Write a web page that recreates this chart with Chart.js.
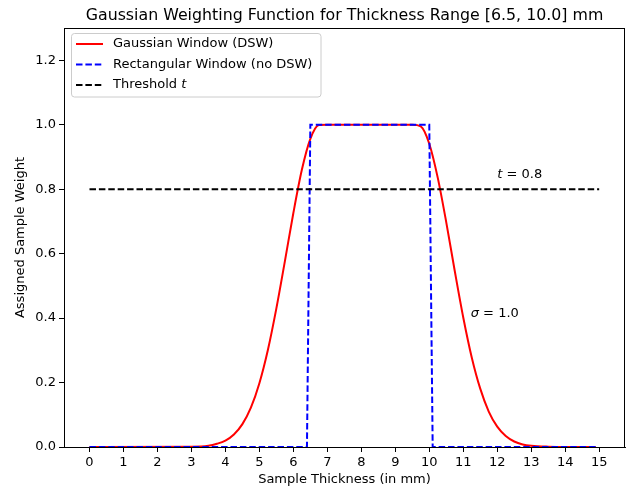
<!DOCTYPE html>
<html>
<head>
<meta charset="utf-8">
<script src="https://cdn.jsdelivr.net/npm/chart.js"></script>
<style>
  html, body { margin: 0; padding: 0; background: #fff; }
  canvas { display: block; }
</style>
</head>
<body>
<canvas id="chart" width="629" height="491"></canvas>
<script>
// values
const gaussX = [0, 3.0, 3.5, 3.75, 4.0, 4.25, 4.5, 4.75, 5.0, 5.25, 5.5, 5.75, 6.0, 6.25, 6.5, 6.75, 7.0,
  9.5, 9.75, 10.0, 10.25, 10.5, 10.75, 11.0, 11.25, 11.5, 11.75, 12.0, 12.25, 12.5, 12.75, 13.0, 13.5, 14.0, 14.9];
const gaussW = [0, 0.001, 0.004, 0.010, 0.020, 0.039, 0.071, 0.122, 0.198, 0.301, 0.430, 0.576, 0.726, 0.860, 0.956, 0.999, 1.0,
  1.0, 0.995, 0.941, 0.835, 0.697, 0.546, 0.402, 0.278, 0.181, 0.110, 0.063, 0.034, 0.017, 0.008, 0.004, 0.001, 0, 0];

const rectX = [0, 6.4, 6.5, 10.0, 10.1, 14.9];
const rectW = [0, 0, 1, 1, 0, 0];

const threshX = [0, 15];
const threshW = [0.8, 0.8];

const xTicks = [0, 1, 2, 3, 4, 5, 6, 7, 8, 9, 10, 11, 12, 13, 14, 15];
const yTicks = [0, 0.2, 0.4, 0.6, 0.8, 1.0, 1.2];

const labels = ['Gaussian Window (DSW)', 'Rectangular Window (no DSW)', 'Threshold '];
const titleText = 'Gaussian Weighting Function for Thickness Range [6.5, 10.0] mm';

const FONT = "'DejaVu Sans', sans-serif";
const FS = 13;
const DASH = [6.5, 2.9];

const toPoints = (xs, ys) => xs.map((x, i) => ({ x, y: ys[i] }));

function richText(ctx, parts, x, y, size) {
  let cx = x;
  parts.forEach(p => {
    ctx.font = (p.it ? 'italic ' : '') + size + 'px ' + FONT;
    ctx.fillText(p.t, cx, y);
    cx += ctx.measureText(p.t).width;
  });
}

const overlay = {
  id: 'overlay',
  afterDatasetsDraw(chart) {
    const { ctx, chartArea: a, scales: { x, y } } = chart;
    ctx.save();
    ctx.fillStyle = '#000';
    ctx.textBaseline = 'middle';
    ctx.textAlign = 'left';
    richText(ctx, [{ t: 't', it: true }, { t: ' = 0.8' }], x.getPixelForValue(12.0), y.getPixelForValue(0.845), FS);
    richText(ctx, [{ t: 'σ', it: true }, { t: ' = 1.0' }], x.getPixelForValue(11.22), y.getPixelForValue(0.413), FS);

    // legend
    const bx = 71.5, by = 33.5, bw = 249.5, bh = 63.5;
    ctx.beginPath();
    ctx.roundRect(bx, by, bw, bh, 3);
    ctx.fillStyle = 'rgba(255,255,255,0.8)';
    ctx.fill();
    ctx.strokeStyle = '#cccccc';
    ctx.lineWidth = 1;
    ctx.stroke();
    const rows = [44, 64.5, 85];
    const styles = [
      { c: '#ff0000', d: [] },
      { c: '#0000ff', d: DASH },
      { c: '#000000', d: DASH }
    ];
    rows.forEach((ry, i) => {
      ctx.beginPath();
      ctx.setLineDash(styles[i].d);
      ctx.strokeStyle = styles[i].c;
      ctx.lineWidth = 2;
      ctx.moveTo(76, ry);
      ctx.lineTo(103, ry);
      ctx.stroke();
      ctx.setLineDash([]);
      ctx.fillStyle = '#000';
      const parts = [{ t: labels[i] }];
      if (i === 2) parts.push({ t: 't', it: true });
      richText(ctx, parts, 113, ry, FS);
    });

    // frame
    ctx.strokeStyle = '#000';
    ctx.lineWidth = 1;
    ctx.strokeRect(Math.round(a.left) + 0.5, Math.round(a.top) + 0.5,
      Math.round(a.right - a.left) - 1, Math.round(a.bottom - a.top));

    // title and axis titles
    const cx = (a.left + a.right) / 2;
    ctx.textAlign = 'center';
    ctx.font = '15.8px ' + FONT;
    ctx.fillText(titleText, cx, 16);
    ctx.font = FS + 'px ' + FONT;
    ctx.fillText('Sample Thickness (in mm)', cx, 480);
    ctx.translate(21, (a.top + a.bottom) / 2);
    ctx.rotate(-Math.PI / 2);
    ctx.fillText('Assigned Sample Weight', 0, 0);
    ctx.restore();
  }
};

new Chart(document.getElementById('chart'), {
  type: 'scatter',
  data: {
    datasets: [
      {
        label: labels[0],
        data: toPoints(gaussX, gaussW),
        showLine: true,
        borderColor: '#ff0000',
        borderWidth: 2,
        pointRadius: 0,
        cubicInterpolationMode: 'monotone',
        order: 2
      },
      {
        label: labels[1],
        data: toPoints(rectX, rectW),
        showLine: true,
        borderColor: '#0000ff',
        borderWidth: 2,
        borderDash: DASH,
        pointRadius: 0,
        tension: 0,
        order: 1
      },
      {
        label: labels[2],
        data: toPoints(threshX, threshW),
        showLine: true,
        borderColor: '#000000',
        borderWidth: 2,
        borderDash: DASH,
        pointRadius: 0,
        tension: 0,
        order: 0
      }
    ]
  },
  options: {
    responsive: false,
    animation: false,
    devicePixelRatio: 1,
    layout: { padding: { top: 28, right: 4, left: 0, bottom: 0 } },
    plugins: {
      legend: { display: false },
      title: { display: false },
      tooltip: { enabled: false }
    },
    scales: {
      x: {
        type: 'linear',
        min: -0.75,
        max: 15.76,
        afterBuildTicks: s => { s.ticks = xTicks.map(v => ({ value: v })); },
        afterFit: s => { s.height = 44; },
        grid: { drawOnChartArea: false, drawTicks: true, tickLength: 5, color: '#000' },
        border: { color: '#000', width: 1 },
        ticks: { color: '#000', padding: 3, font: { family: FONT, size: FS }, callback: v => String(v) }
      },
      y: {
        type: 'linear',
        min: 0,
        max: 1.3,
        afterBuildTicks: s => { s.ticks = yTicks.map(v => ({ value: v })); },
        afterFit: s => { s.width = 64; },
        grid: { drawOnChartArea: false, drawTicks: true, tickLength: 5, color: '#000' },
        border: { color: '#000', width: 1 },
        ticks: { color: '#000', padding: 3, font: { family: FONT, size: FS }, callback: v => v.toFixed(1) }
      }
    }
  },
  plugins: [overlay]
});
</script>
</body>
</html>
